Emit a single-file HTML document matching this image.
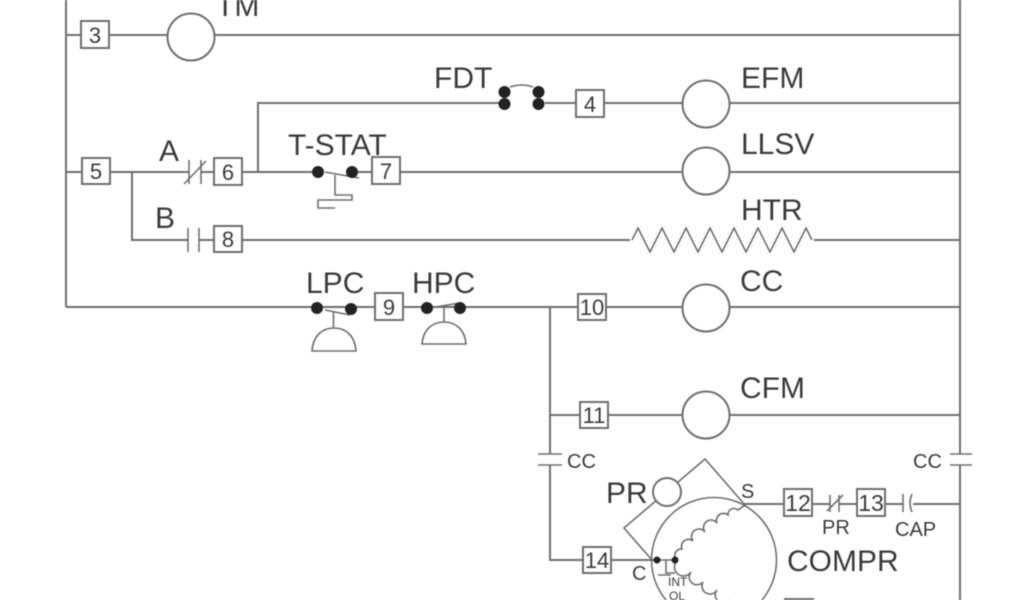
<!DOCTYPE html>
<html>
<head>
<meta charset="utf-8">
<style>
html,body{margin:0;padding:0;background:#fff;width:1024px;height:600px;overflow:hidden}
svg{display:block;filter:blur(.4px)}
text{font-family:"Liberation Sans",sans-serif;fill:#3a3a3a}
.l{stroke:#6e6e6e;stroke-width:2;fill:none}
.t{stroke:#6e6e6e;stroke-width:1.6;fill:none}
.b{stroke:#6e6e6e;stroke-width:2;fill:#fff}
.d{fill:#222}
.n{font-size:22px;text-anchor:middle}
.L{font-size:30px}
.s{font-size:20px}
</style>
</head>
<body>
<svg width="1024" height="600" viewBox="0 0 1024 600" xmlns="http://www.w3.org/2000/svg">
<!-- rails -->
<path class="l" d="M66 0V307M960 0V454M960 465V600"/>
<path class="l" d="M66 35H960"/>
<path class="l" d="M66 172H189M201 172H318M352 172H960"/>
<path class="l" d="M258 172V103H500M545 103H960"/>
<path class="l" d="M132 172V240H188M199 240H632M812 240H960"/>
<path class="l" d="M66 307H960"/>
<path class="l" d="M550 307V454M550 465V560H652"/>
<path class="l" d="M550 415H960"/>
<path class="l" d="M744 504H830M839 504H857M885 504H903M913 504H960"/>

<!-- circles -->
<g class="b">
<circle cx="191" cy="37" r="23.500"/>
<circle cx="706" cy="104" r="23.500"/>
<circle cx="706" cy="171" r="23.500"/>
<circle cx="706" cy="308" r="23.500"/>
<circle cx="706" cy="415" r="23.500"/>
</g>

<!-- heater -->
<rect x="630" y="228" width="184" height="24" fill="#fff"/>
<path class="t" d="M632 240L638 228L650 252L662 228L674 252L686 228L698 252L710 228L722 252L734 228L746 252L758 228L770 252L782 228L794 252L806 228L812 240"/>

<!-- contacts A, B -->
<path class="t" d="M189 160V184M201 160V184M184 184L206 161"/>
<path class="t" d="M188 228V252M199 228V252"/>

<!-- FDT -->
<path class="t" d="M510 87Q522 83 533 87"/>
<g class="d">
<circle cx="504.500" cy="92" r="6"/><circle cx="504.500" cy="104" r="6"/>
<circle cx="538.500" cy="92" r="6"/><circle cx="538.500" cy="104" r="6"/>
</g>

<!-- T-STAT -->
<path class="t" d="M325 172L359 178M335 175V195H352V200H318V208H335"/>
<circle class="d" cx="318" cy="172" r="6"/>
<circle class="d" cx="352" cy="172" r="6"/>

<!-- LPC -->
<path class="t" d="M325 310L350 315M333.500 311V328"/>
<path class="t" d="M312 351C313 336 322 328 334 328C346 328 355 336 356 351Z"/>
<circle class="d" cx="317" cy="308" r="6"/>
<circle class="d" cx="351" cy="309" r="6"/>
<!-- HPC -->
<path class="t" d="M435 307L460 303M444 305V322"/>
<path class="t" d="M422 344C423 330 432 322 444 322C456 322 465 330 466 344Z"/>
<circle class="d" cx="427" cy="308" r="6"/>
<circle class="d" cx="460" cy="308" r="6"/>

<!-- CC contacts -->
<path class="t" d="M538 454H562M538 465H562"/>
<path class="t" d="M950 454H972M950 465H972"/>

<!-- PR contact and CAP -->
<path class="t" d="M830 495V512M839 495V512M827 511L843 495"/>
<path class="t" d="M903 494V512M912 494Q908 503 912 512"/>

<!-- compressor -->
<circle class="t" cx="714" cy="560" r="62.500"/>
<path class="t" d="M652 560L624 528L705 459L745 505"/>
<circle class="b" cx="667" cy="492" r="14"/>
<path class="l" d="M640 560H658"/>
<path class="t" d="M675 557A6.500 6.500 0 0 1 682 549A7 7 0 0 1 693 541A7 7 0 0 1 705 532A7 7 0 0 1 717 523A7 7 0 0 1 728 515A6 6 0 0 1 738 510Q741 508 745 505"/>
<path class="t" d="M676 562A7 7 0 0 0 691 572A7 7 0 0 0 703 582A7 7 0 0 0 717 590A7 7 0 0 0 729 600"/>
<path class="t" d="M657 560H675M666 560V573H674V574M658 575H671"/>
<circle class="d" cx="657" cy="560" r="3.500"/>
<circle class="d" cx="675" cy="560" r="3.500"/>

<!-- numbered boxes -->
<g class="b">
<rect x="81" y="21" width="28" height="27"/>
<rect x="576" y="90" width="28" height="27"/>
<rect x="82" y="158" width="28" height="26"/>
<rect x="214" y="158" width="28" height="27"/>
<rect x="372" y="157" width="28" height="27"/>
<rect x="214" y="226" width="28" height="26"/>
<rect x="375" y="293" width="28" height="27"/>
<rect x="578" y="294" width="28" height="26"/>
<rect x="580" y="402" width="28" height="26"/>
<rect x="583" y="547" width="28" height="26"/>
<rect x="784" y="489" width="28" height="27"/>
<rect x="857" y="489" width="28" height="27"/>
<rect x="785" y="599" width="28" height="10"/>
</g>
<g class="n">
<text x="95" y="43">3</text>
<text x="590" y="112">4</text>
<text x="96" y="179">5</text>
<text x="228" y="180">6</text>
<text x="386" y="179">7</text>
<text x="228" y="247">8</text>
<text x="389" y="315">9</text>
<text x="592" y="315">10</text>
<text x="594" y="423">11</text>
<text x="597" y="568">14</text>
<text x="798" y="511" font-size="23">12</text>
<text x="871" y="511" font-size="23">13</text>
</g>

<!-- labels -->
<g class="L">
<text x="216" y="16">TM</text>
<text x="434" y="88">FDT</text>
<text x="741" y="88">EFM</text>
<text x="741" y="154">LLSV</text>
<text x="288" y="155">T-STAT</text>
<text x="159" y="161">A</text>
<text x="155" y="228">B</text>
<text x="741" y="220">HTR</text>
<text x="306" y="293">LPC</text>
<text x="412" y="293">HPC</text>
<text x="740" y="291">CC</text>
<text x="740" y="398">CFM</text>
<text x="606" y="503">PR</text>
<text x="787" y="571">COMPR</text>
</g>
<g class="s">
<text x="567" y="468">CC</text>
<text x="913" y="468">CC</text>
<text x="822" y="534">PR</text>
<text x="895" y="536">CAP</text>
<text x="632" y="580">C</text>
<text x="741" y="498">S</text>
</g>
<text x="668" y="586" font-size="12">INT</text>
<text x="669" y="600" font-size="12">OL</text>
</svg>
</body>
</html>
